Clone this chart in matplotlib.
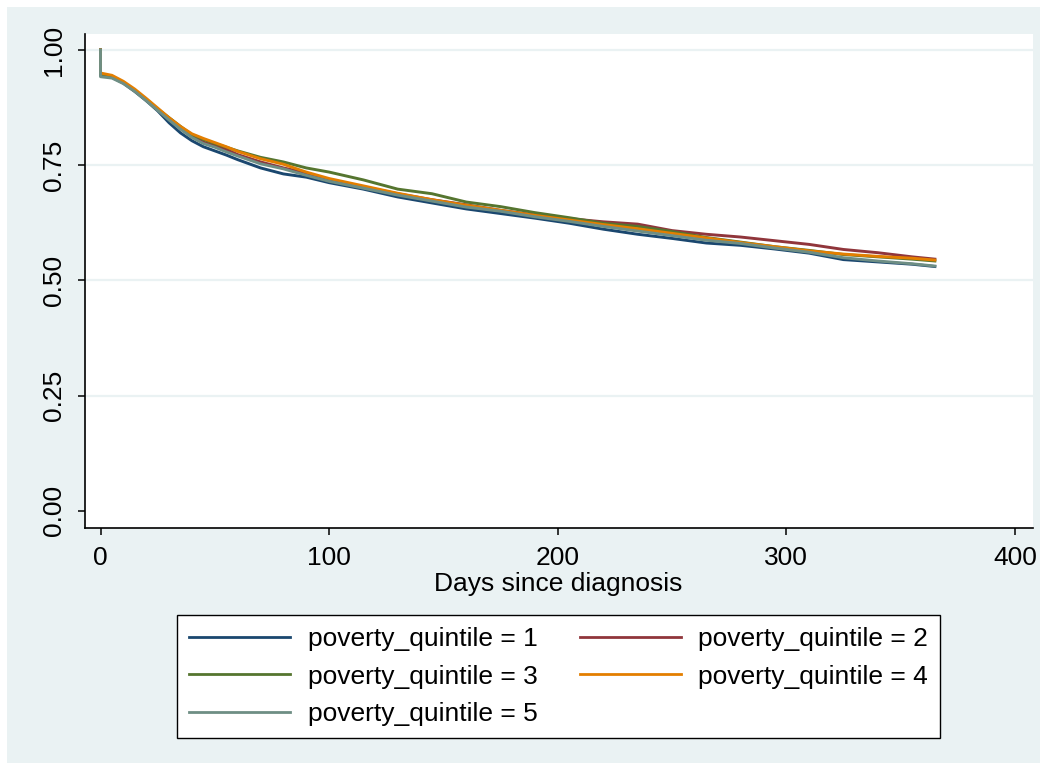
import matplotlib.pyplot as plt
from matplotlib.patches import Rectangle

# Kaplan-Meier survival estimates by poverty quintile (read at selected days)
days = [0, 0, 5, 10, 15, 20, 25, 30, 35, 40, 45, 50, 55, 60, 70, 80, 90, 100,
        115, 130, 145, 160, 175, 190, 205, 220, 235, 250, 265, 280, 295, 310,
        325, 340, 355, 365]

q1 = [1.0, 0.945, 0.941, 0.928, 0.910, 0.890, 0.868, 0.842, 0.820, 0.803, 0.790,
      0.781, 0.772, 0.762, 0.744, 0.731, 0.724, 0.712, 0.698, 0.681, 0.668, 0.655,
      0.645, 0.635, 0.624, 0.611, 0.600, 0.591, 0.581, 0.576, 0.568, 0.559, 0.545,
      0.540, 0.535, 0.530]
q2 = [1.0, 0.947, 0.942, 0.929, 0.911, 0.892, 0.871, 0.852, 0.832, 0.813, 0.800,
      0.792, 0.784, 0.773, 0.757, 0.744, 0.733, 0.716, 0.703, 0.688, 0.675, 0.664,
      0.652, 0.642, 0.634, 0.627, 0.622, 0.608, 0.600, 0.594, 0.586, 0.578, 0.567,
      0.560, 0.551, 0.546]
q3 = [1.0, 0.947, 0.942, 0.930, 0.912, 0.893, 0.872, 0.853, 0.834, 0.816, 0.806,
      0.797, 0.789, 0.781, 0.767, 0.757, 0.744, 0.735, 0.718, 0.698, 0.688, 0.670,
      0.660, 0.647, 0.636, 0.624, 0.617, 0.606, 0.593, 0.583, 0.573, 0.565, 0.556,
      0.551, 0.546, 0.542]
q4 = [1.0, 0.950, 0.945, 0.932, 0.915, 0.895, 0.874, 0.853, 0.834, 0.818, 0.808,
      0.799, 0.790, 0.780, 0.764, 0.752, 0.735, 0.721, 0.705, 0.689, 0.675, 0.663,
      0.652, 0.641, 0.631, 0.621, 0.612, 0.602, 0.592, 0.582, 0.573, 0.564, 0.557,
      0.552, 0.548, 0.544]
q5 = [1.0, 0.942, 0.939, 0.927, 0.910, 0.890, 0.869, 0.848, 0.828, 0.810, 0.797,
      0.789, 0.779, 0.770, 0.753, 0.742, 0.728, 0.715, 0.700, 0.685, 0.672, 0.659,
      0.650, 0.638, 0.628, 0.617, 0.607, 0.597, 0.587, 0.580, 0.570, 0.561, 0.549,
      0.542, 0.536, 0.531]

series = [q1, q2, q3, q4, q5]
labels = ['poverty_quintile = 1', 'poverty_quintile = 2', 'poverty_quintile = 3',
          'poverty_quintile = 4', 'poverty_quintile = 5']
colors = ['#1a476f', '#90353b', '#55752f', '#e37e00', '#6e8e84']

xticks = [0, 100, 200, 300, 400]
yticks = [0.0, 0.25, 0.5, 0.75, 1.0]

bg = '#eaf2f3'
plt.rcParams['font.family'] = ['Liberation Sans', 'DejaVu Sans']

fig = plt.figure(figsize=(10.46, 7.70), dpi=100, facecolor='white')
W, H = 1046, 770
fig.patches.append(Rectangle((7 / W, 7 / H), (1040 - 7) / W, (763 - 7) / H,
                             transform=fig.transFigure, facecolor=bg,
                             edgecolor='none', zorder=-5))

ax = fig.add_axes([84.5 / W, 1 - 527.5 / H, (1032.7 - 84.5) / W, (527.5 - 34) / H])
ax.set_zorder(1)
ax.set_facecolor('white')

# grid lines (none at zero)
for y in yticks[1:]:
    ax.axhline(y, color=bg, linewidth=1.6, zorder=1)

lines = []
for vals, lab, col in zip(series, labels, colors):
    ln, = ax.plot(days, vals, color=col, linewidth=2.1, label=lab, zorder=3)
    lines.append(ln)

ax.set_xlim(-7.0, 407.8)
ax.set_ylim(-0.0365, 1.0347)
ax.set_xticks(xticks)
ax.set_yticks(yticks)
ax.set_yticklabels(['%.2f' % v for v in yticks], rotation=90, va='center')

for side in ['top', 'right']:
    ax.spines[side].set_visible(False)
for side in ['left', 'bottom']:
    ax.spines[side].set_linewidth(1.2)
    ax.spines[side].set_color('black')

ax.tick_params(axis='both', length=5, width=1.1, labelsize=19, color='black', pad=8)
ax.set_xlabel('Days since diagnosis', fontsize=19, labelpad=2)

# legend rows read 1,2 / 3,4 / 5
order = [0, 2, 4, 1, 3]
leg = fig.legend([lines[i] for i in order], [labels[i] for i in order],
                 ncol=2, loc='upper center',
                 bbox_to_anchor=(558.5 / W, 1 - 615 / H), bbox_transform=fig.transFigure,
                 fontsize=19, frameon=True, fancybox=False, edgecolor='black',
                 facecolor='white', framealpha=1,
                 handlelength=3.85, handletextpad=0.65, columnspacing=1.6,
                 labelspacing=0.52, borderpad=0.45, borderaxespad=0)
leg.get_frame().set_linewidth(1.0)
leg.set_zorder(2)
for h in leg.get_lines():
    h.set_linewidth(2.0)

fig.savefig('out.png', dpi=100, facecolor='white')
